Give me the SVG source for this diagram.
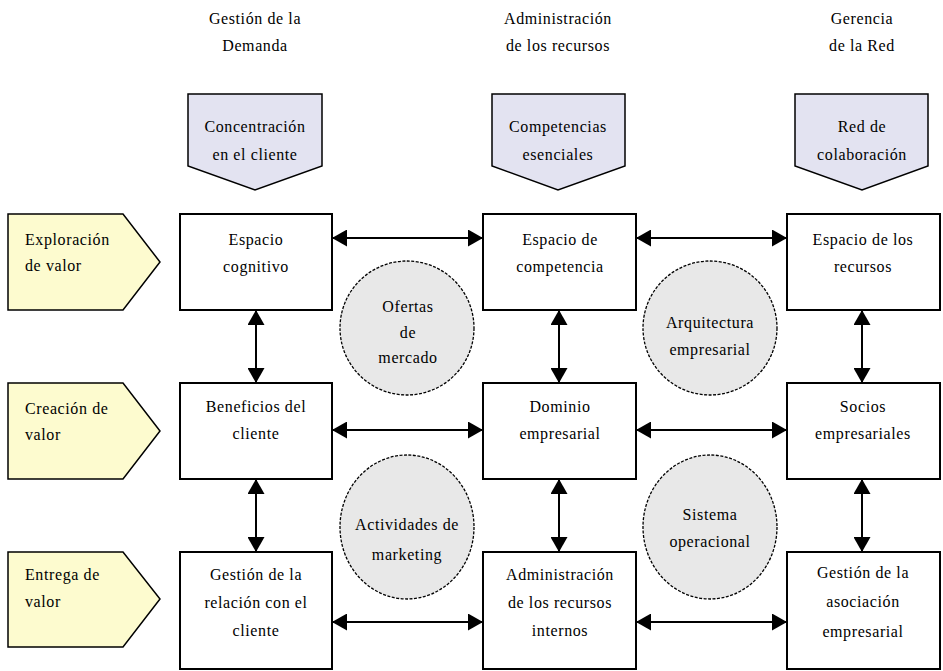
<svg xmlns="http://www.w3.org/2000/svg" width="943" height="671" viewBox="0 0 943 671">
<defs>
<marker id="ah" viewBox="0 0 15 17" markerUnits="userSpaceOnUse" markerWidth="15" markerHeight="17" refX="15" refY="8.5" orient="auto-start-reverse">
<path d="M0,0 L15,8.5 L0,17 z" fill="#000"/>
</marker>
<style>
text{font-family:"Liberation Serif","Times New Roman",serif;font-size:16px;fill:#000;letter-spacing:0.6px}
.c{text-anchor:middle}
.box{fill:#fff;stroke:#000;stroke-width:2}
.lp{fill:#fdfbcf;stroke:#000;stroke-width:1.5}
.tp{fill:#e3e3f1;stroke:#000;stroke-width:1.5}
.circ{fill:#e8e8e8;stroke:#000;stroke-width:1.3;stroke-dasharray:3 1.5}
.con line{stroke:#000;stroke-width:2;marker-start:url(#ah);marker-end:url(#ah)}
</style>
</defs>
<rect width="943" height="671" fill="#fff"/>

<g id="headers">
<text class="c" x="255" y="24">Gestión de la</text>
<text class="c" x="255" y="51">Demanda</text>
<text class="c" x="558" y="24">Administración</text>
<text class="c" x="558" y="51">de los recursos</text>
<text class="c" x="862" y="24">Gerencia</text>
<text class="c" x="862" y="51">de la Red</text>
</g>

<g id="top-concentracion">
<path class="tp" d="M188,94 H322 V166 L255,190 L188,166 Z"/>
<text class="c" x="255" y="132">Concentración</text>
<text class="c" x="255" y="160">en el cliente</text>
</g>
<g id="top-competencias">
<path class="tp" d="M492,94 H625 V166 L558,190 L492,166 Z"/>
<text class="c" x="558" y="132">Competencias</text>
<text class="c" x="558" y="160">esenciales</text>
</g>
<g id="top-red">
<path class="tp" d="M795,94 H928 V166 L862,190 L795,166 Z"/>
<text class="c" x="862" y="132">Red de</text>
<text class="c" x="862" y="160">colaboración</text>
</g>

<g id="left-exploracion">
<path class="lp" d="M8,214 H123 L160,262 L123,310 H8 Z"/>
<text x="25" y="245">Exploración</text>
<text x="25" y="271">de valor</text>
</g>
<g id="left-creacion">
<path class="lp" d="M8,383 H123 L160,431 L123,479 H8 Z"/>
<text x="25" y="414">Creación de</text>
<text x="25" y="440">valor</text>
</g>
<g id="left-entrega">
<path class="lp" d="M8,552 H123 L160,599 L123,647 H8 Z"/>
<text x="25" y="580">Entrega de</text>
<text x="25" y="607">valor</text>
</g>

<g id="espacio-cognitivo">
<rect class="box" x="180" y="214" width="152" height="96"/>
<text class="c" x="256" y="245">Espacio</text>
<text class="c" x="256" y="272">cognitivo</text>
</g>
<g id="espacio-competencia">
<rect class="box" x="483" y="214" width="153" height="96"/>
<text class="c" x="560" y="245">Espacio de</text>
<text class="c" x="560" y="272">competencia</text>
</g>
<g id="espacio-recursos">
<rect class="box" x="787" y="214" width="153" height="96"/>
<text class="c" x="863" y="245">Espacio de los</text>
<text class="c" x="863" y="272">recursos</text>
</g>

<g id="beneficios-cliente">
<rect class="box" x="180" y="383" width="152" height="96"/>
<text class="c" x="256" y="412">Beneficios del</text>
<text class="c" x="256" y="439">cliente</text>
</g>
<g id="dominio-empresarial">
<rect class="box" x="483" y="383" width="153" height="96"/>
<text class="c" x="560" y="412">Dominio</text>
<text class="c" x="560" y="439">empresarial</text>
</g>
<g id="socios-empresariales">
<rect class="box" x="787" y="383" width="153" height="96"/>
<text class="c" x="863" y="412">Socios</text>
<text class="c" x="863" y="439">empresariales</text>
</g>

<g id="gestion-relacion">
<rect class="box" x="180" y="552" width="152" height="117"/>
<text class="c" x="256" y="580">Gestión de la</text>
<text class="c" x="256" y="608">relación con el</text>
<text class="c" x="256" y="636">cliente</text>
</g>
<g id="administracion-recursos">
<rect class="box" x="483" y="552" width="153" height="117"/>
<text class="c" x="560" y="580">Administración</text>
<text class="c" x="560" y="608">de los recursos</text>
<text class="c" x="560" y="636">internos</text>
</g>
<g id="gestion-asociacion">
<rect class="box" x="787" y="552" width="153" height="117"/>
<text class="c" x="863" y="578">Gestión de la</text>
<text class="c" x="863" y="607">asociación</text>
<text class="c" x="863" y="637">empresarial</text>
</g>

<g id="ofertas-mercado">
<ellipse class="circ" cx="407" cy="328" rx="67" ry="67"/>
<text class="c" x="408" y="312">Ofertas</text>
<text class="c" x="408" y="338">de</text>
<text class="c" x="408" y="363">mercado</text>
</g>
<g id="arquitectura-empresarial">
<ellipse class="circ" cx="710" cy="328" rx="67" ry="67"/>
<text class="c" x="710" y="328">Arquitectura</text>
<text class="c" x="710" y="355">empresarial</text>
</g>
<g id="actividades-marketing">
<ellipse class="circ" cx="407" cy="527" rx="67" ry="72"/>
<text class="c" x="407" y="530">Actividades de</text>
<text class="c" x="407" y="560">marketing</text>
</g>
<g id="sistema-operacional">
<ellipse class="circ" cx="710" cy="527" rx="67" ry="72"/>
<text class="c" x="710" y="520">Sistema</text>
<text class="c" x="710" y="547">operacional</text>
</g>

<g id="connectors" class="con">
<line x1="332" y1="238" x2="483" y2="238"/>
<line x1="636" y1="238" x2="787" y2="238"/>
<line x1="332" y1="430" x2="483" y2="430"/>
<line x1="636" y1="430" x2="787" y2="430"/>
<line x1="332" y1="622" x2="483" y2="622"/>
<line x1="636" y1="622" x2="787" y2="622"/>
<line x1="256" y1="310" x2="256" y2="383"/>
<line x1="256" y1="479" x2="256" y2="552"/>
<line x1="559" y1="310" x2="559" y2="383"/>
<line x1="559" y1="479" x2="559" y2="552"/>
<line x1="862" y1="310" x2="862" y2="383"/>
<line x1="862" y1="479" x2="862" y2="552"/>
</g>
</svg>
